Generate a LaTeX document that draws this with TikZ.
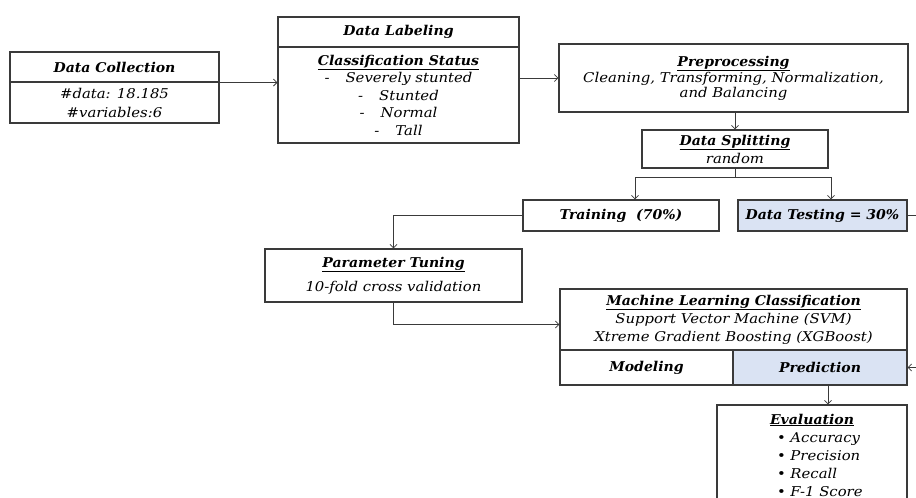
\documentclass[tikz,border=0pt]{standalone}
\usepackage{fontspec}
\setmainfont{DejaVu Serif}[ItalicFeatures={FakeStretch=1.1},BoldItalicFeatures={FakeStretch=1.04}]
\usetikzlibrary{arrows.meta}
\newcommand\flowfont[1]{\fontsize{13.5}{#1}\selectfont\itshape}
\definecolor{testblue}{HTML}{DAE3F3}
\definecolor{edge}{HTML}{3A3A3A}

\begin{document}
\begin{tikzpicture}
[x=1pt,y=-1pt,%
  >={Straight Barb[length=3.5pt,width=7pt]},%
  every node/.style={shape=rectangle,draw=edge,line width=1.1pt,inner sep=0pt,align=center,font=\flowfont{18}},%
  shade/.style={fill=testblue},%
  link/.style={draw=edge,line width=0.8pt}]
\useasboundingbox (0,0) rectangle (916,498);
\clip (0,0) rectangle (916,498);
% collection and labeling
\node[minimum width=209,minimum height=30] (dcHead) at (114.5,67) {\bfseries Data Collection};
\node[minimum width=209,minimum height=41,font=\flowfont{19}] (dcBody) at (114.5,102.5) {\#data: 18.185\\\#variables:6};
\node[minimum width=241,minimum height=30] (dlHead) at (398.5,32) {\bfseries Data Labeling};
\node[minimum width=241,minimum height=96,font=\flowfont{17.5}] (dlBody) at (398.5,95)
  {\underline{\bfseries Classification Status}\\
   -\hspace{16pt}Severely stunted\\
   -\hspace{16pt}Stunted\\
   -\hspace{16pt}Normal\\
   -\hspace{16pt}Tall};
% preprocessing and splitting
\node[minimum width=349,minimum height=68,font=\flowfont{15}] (ppBox) at (733.5,78)
  {\underline{\bfseries Preprocessing}\\Cleaning, Transforming, Normalization,\\and Balancing};
\node[minimum width=186,minimum height=38] (dsBox) at (735,149)
  {\underline{\bfseries Data Splitting}\\random};
\node[minimum width=196,minimum height=31] (trBox) at (621,215.5) {\bfseries Training\ \ (70\%)};
\node[shade,minimum width=169,minimum height=31] (dtBox) at (822.5,215.5) {\bfseries Data Testing = 30\%};
% tuning and classification
\node[minimum width=257,minimum height=53,font=\flowfont{24}] (ptBox) at (393.5,275.5)
  {\underline{\bfseries Parameter Tuning}\\10-fold cross validation};
\node[minimum width=347,minimum height=61] (mlHead) at (733.5,319.5)
  {\underline{\bfseries Machine Learning Classification}\\Support Vector Machine (SVM)\\Xtreme Gradient Boosting (XGBoost)};
\node[minimum width=173,minimum height=35] (moBox) at (646.5,367.5) {\bfseries Modeling};
\node[shade,minimum width=174,minimum height=35] (prBox) at (820,367.5) {\bfseries Prediction};
\node[minimum width=190,minimum height=100] (evBox) at (812,455)
  {\underline{\bfseries Evaluation}\\
   \hspace*{16pt}\makebox[86pt][l]{\textbullet\ Accuracy}\\
   \hspace*{16pt}\makebox[86pt][l]{\textbullet\ Precision}\\
   \hspace*{16pt}\makebox[86pt][l]{\textbullet\ Recall}\\
   \hspace*{16pt}\makebox[86pt][l]{\textbullet\ F-1 Score}};
% connectors
\draw[link,->] (dcHead.south east) -- (dcHead.south east -| dlBody.west);
\draw[link,->] (dlBody.east |- ppBox.west) -- (ppBox.west);
\draw[link,->] (dsBox.north |- ppBox.south) -- (dsBox.north);
\coordinate (split) at (735,177);
\draw[link] (dsBox.south) -- (split);
\draw[link,->] (split) -| ([xshift=14pt]trBox.north);
\draw[link,->] (split) -| ([xshift=8.5pt]dtBox.north);
\draw[link,->] (trBox.west) -| (ptBox.north);
\draw[link,->] (ptBox.south) |- ([yshift=-5pt]mlHead.west);
\draw[link,->] (dtBox.east) -- ++(12,0) |- (prBox.east);
\draw[link,->] ([xshift=8pt]prBox.south) -- ([xshift=8pt]prBox.south |- evBox.north);
\end{tikzpicture}
\end{document}
